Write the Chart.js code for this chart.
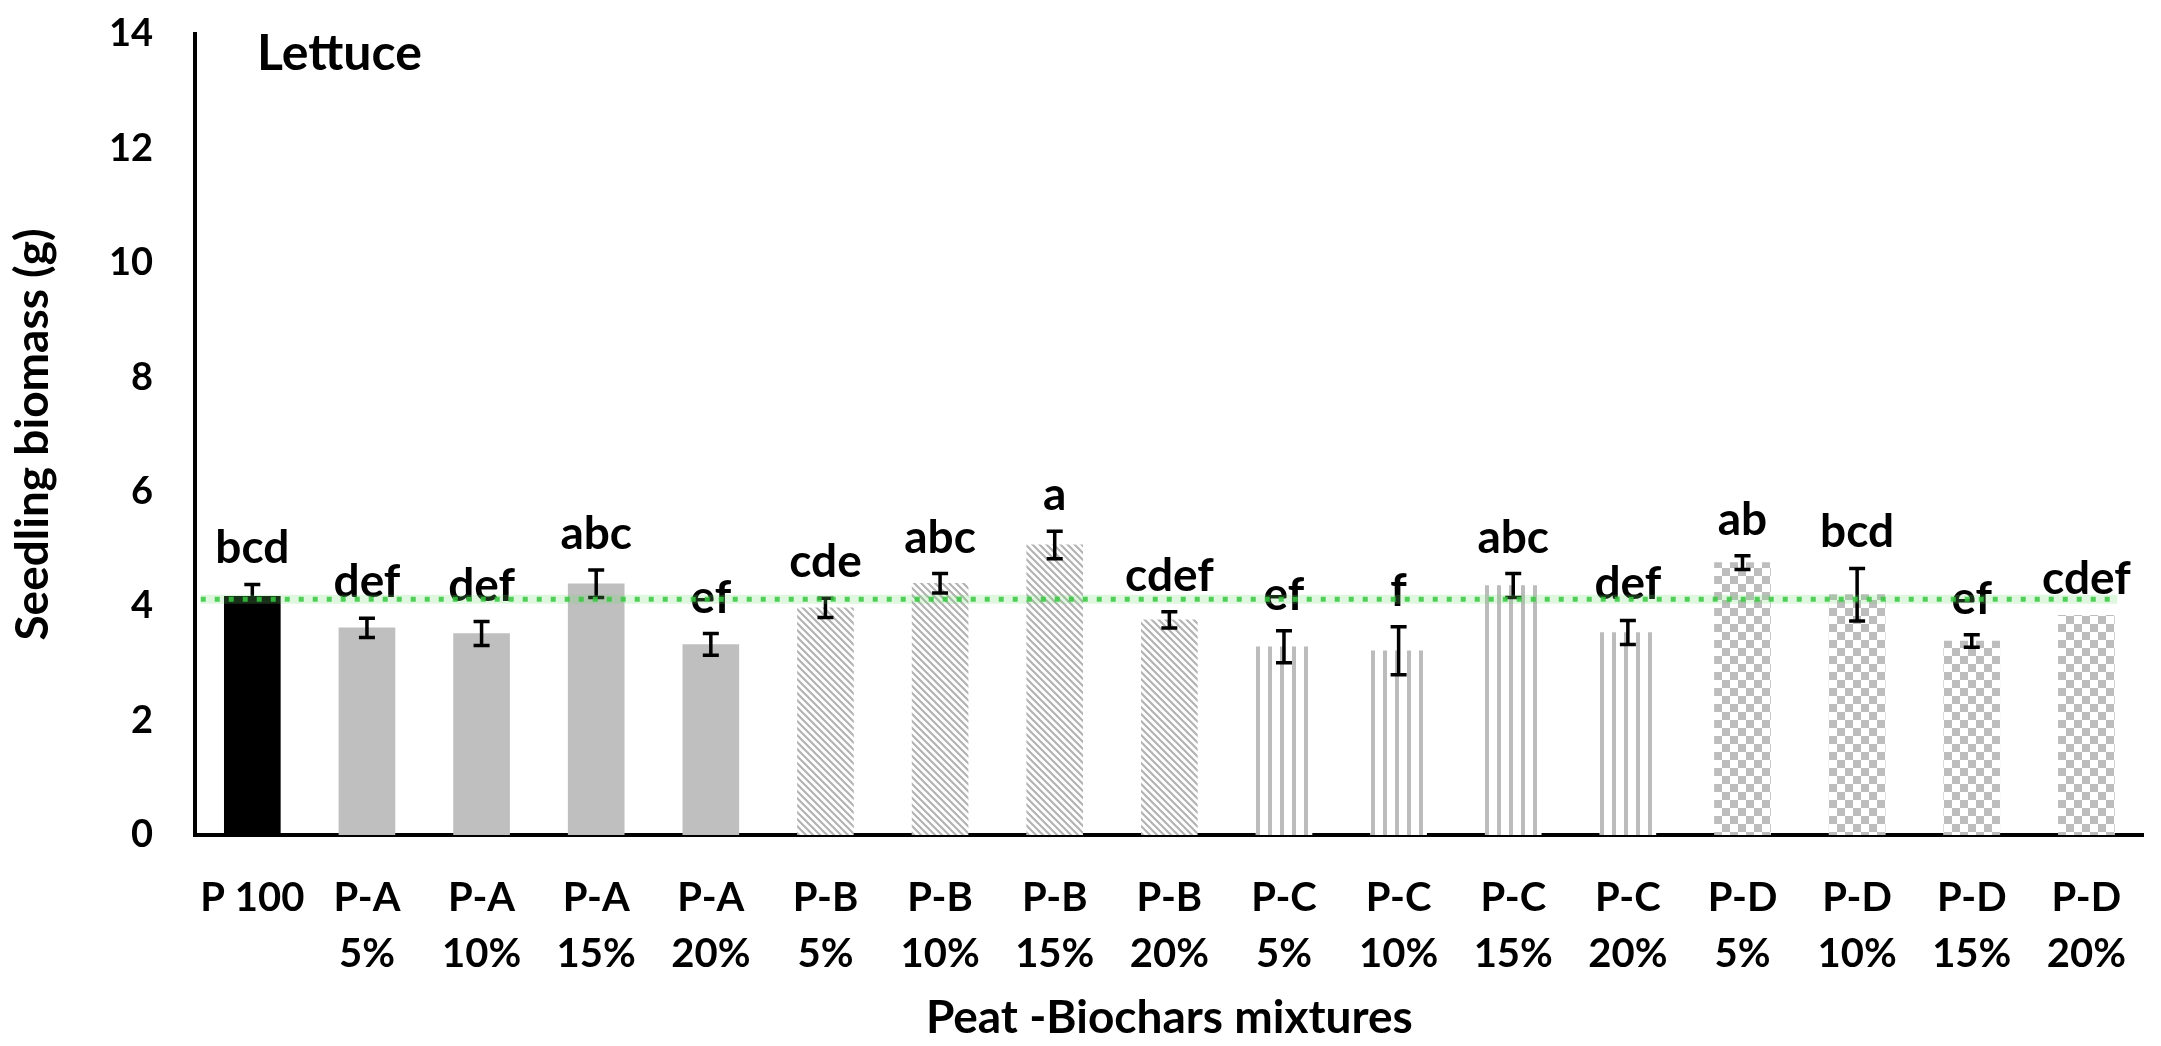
<!DOCTYPE html>
<html>
<head>
<meta charset="utf-8">
<script src="https://cdn.jsdelivr.net/npm/chart.js@4.4.1/dist/chart.umd.min.js"></script>
<style>
  html, body { margin: 0; padding: 0; background: #fff; }
  #wrap { width: 2161px; height: 1046px; }
</style>
</head>
<body>
<div id="wrap"><canvas id="chart" width="2161" height="1046"></canvas></div>
<script>
// Lettuce seedling biomass for peat / biochar mixtures
const categories = ['P 100',
  ['P-A', '5%'], ['P-A', '10%'], ['P-A', '15%'], ['P-A', '20%'],
  ['P-B', '5%'], ['P-B', '10%'], ['P-B', '15%'], ['P-B', '20%'],
  ['P-C', '5%'], ['P-C', '10%'], ['P-C', '15%'], ['P-C', '20%'],
  ['P-D', '5%'], ['P-D', '10%'], ['P-D', '15%'], ['P-D', '20%']];
const groups = ['P', 'A', 'A', 'A', 'A', 'B', 'B', 'B', 'B', 'C', 'C', 'C', 'C', 'D', 'D', 'D', 'D'];
const biomass = [4.17, 3.62, 3.52, 4.39, 3.33, 3.97, 4.40, 5.07, 3.76, 3.29, 3.22, 4.36, 3.54, 4.76, 4.20, 3.39, 3.84];
const errors = [0.21, 0.17, 0.21, 0.24, 0.19, 0.17, 0.17, 0.24, 0.14, 0.28, 0.42, 0.21, 0.21, 0.12, 0.46, 0.11, 0];
const letters = ['bcd', 'def', 'def', 'abc', 'ef', 'cde', 'abc', 'a', 'cdef', 'ef', 'f', 'abc', 'def', 'ab', 'bcd', 'ef', 'cdef'];
const yTicks = [0, 2, 4, 6, 8, 10, 12, 14];
const refLevel = 4.12;          // P 100 reference line
const refSpan = [-0.45, 16.27]; // in category units

const FONT = 'Lato, "Open Sans", sans-serif';
const BAR_W = 56;

const canvas = document.getElementById('chart');
const ctx = canvas.getContext('2d');

function makeTile(w, h, draw) {
  const c = document.createElement('canvas');
  c.width = w; c.height = h;
  const x = c.getContext('2d');
  x.fillStyle = '#fff';
  x.fillRect(0, 0, w, h);
  draw(x);
  return c;
}

const tiles = {
  B: makeTile(7, 7, x => {
    x.strokeStyle = '#b3b3b3';
    x.lineWidth = 2.2;
    x.beginPath();
    for (let k = -7; k <= 7; k += 7) {
      x.moveTo(k - 1, -1);
      x.lineTo(k + 8, 8);
    }
    x.stroke();
  }),
  C: makeTile(12, 10, x => {
    x.fillStyle = '#bcbcbc';
    x.fillRect(0, 0, 4, 10);
  }),
  D: makeTile(16, 16, x => {
    x.fillStyle = '#bdbdbd';
    x.fillRect(0, 0, 8, 8);
    x.fillRect(8, 8, 8, 8);
  })
};

// solid colours or patterns anchored to the left edge of each bar
function barFill(c) {
  const g = groups[c.dataIndex];
  if (g === 'P') return '#000000';
  if (g === 'A') return '#bfbfbf';
  const p = ctx.createPattern(tiles[g], 'repeat');
  const xs = c.chart.scales.x;
  if (xs && p.setTransform) {
    const left = xs.getPixelForValue(c.dataIndex) - BAR_W / 2;
    p.setTransform(new DOMMatrix().translate(Math.round(left), 0));
  }
  return p;
}

const barExtras = {
  id: 'barExtras',
  afterDatasetDraw(chart, args) {
    if (args.index !== 0) return;
    const c = chart.ctx;
    const y = chart.scales.y;
    const meta = chart.getDatasetMeta(0);
    c.save();
    meta.data.forEach((bar, i) => {
      const v = biomass[i], e = errors[i];
      const top = y.getPixelForValue(v + e);
      if (e > 0) {
        const bot = y.getPixelForValue(v - e);
        c.strokeStyle = '#000';
        c.lineWidth = 3.5;
        c.beginPath();
        c.moveTo(bar.x, top); c.lineTo(bar.x, bot);
        c.moveTo(bar.x - 8, top); c.lineTo(bar.x + 8, top);
        c.moveTo(bar.x - 8, bot); c.lineTo(bar.x + 8, bot);
        c.stroke();
      }
      c.fillStyle = '#000';
      c.font = 'bold 46px ' + FONT;
      c.textAlign = 'center';
      c.textBaseline = 'alphabetic';
      c.fillText(letters[i], bar.x, top - 21);
    });
    // panel label
    c.font = 'bold 50px ' + FONT;
    c.textAlign = 'left';
    c.fillText('Lettuce', chart.chartArea.left + 62, 70);
    c.restore();
  },
  afterDatasetsDraw(chart) {
    // dotted reference line at the P 100 level
    const c = chart.ctx;
    const x = chart.scales.x, y = chart.scales.y;
    const py = y.getPixelForValue(refLevel);
    const x0 = x.getPixelForValue(refSpan[0]), x1 = x.getPixelForValue(refSpan[1]);
    c.save();
    c.strokeStyle = 'rgba(110, 215, 110, 0.22)';
    c.lineWidth = 9;
    c.beginPath(); c.moveTo(x0, py); c.lineTo(x1, py); c.stroke();
    c.strokeStyle = 'rgba(55, 200, 65, 0.85)';
    c.lineWidth = 5;
    c.setLineDash([5, 9]);
    c.beginPath(); c.moveTo(x0, py); c.lineTo(x1, py); c.stroke();
    c.restore();
  }
};

new Chart(ctx, {
  type: 'bar',
  data: {
    labels: categories,
    datasets: [{
      data: biomass,
      backgroundColor: barFill,
      borderWidth: 0,
      barThickness: BAR_W
    }]
  },
  plugins: [barExtras],
  options: {
    responsive: false,
    animation: false,
    devicePixelRatio: 1,
    layout: { padding: { left: 0, right: 1, top: 34, bottom: 0 } },
    plugins: { legend: { display: false }, tooltip: { enabled: false } },
    scales: {
      x: {
        grid: { display: false, drawTicks: false },
        border: { display: true, color: '#000', width: 4 },
        ticks: {
          color: '#000',
          font: { family: FONT, size: 40, weight: 'bold', lineHeight: 1.4 },
          padding: 35,
          maxRotation: 0,
          autoSkip: false
        },
        title: {
          display: true,
          text: 'Peat -Biochars mixtures',
          color: '#000',
          font: { family: FONT, size: 46, weight: 'bold' },
          padding: { top: 0, bottom: 0 }
        },
        afterFit: s => { s.height = 211; }
      },
      y: {
        min: 0,
        max: 14,
        grid: { display: false, drawTicks: false },
        border: { display: true, color: '#000', width: 4 },
        afterBuildTicks: s => { s.ticks = yTicks.map(v => ({ value: v })); },
        ticks: {
          color: '#000',
          font: { family: FONT, size: 38, weight: 'bold' },
          padding: 42
        },
        title: {
          display: true,
          text: 'Seedling biomass (g)',
          color: '#000',
          font: { family: FONT, size: 46, weight: 'bold' },
          padding: { top: 6, bottom: 0 }
        },
        afterFit: s => {
          s.width = 195;
          s.paddingTop = 0;
          s.paddingBottom = 0;
        }
      }
    }
  }
});
</script>
</body>
</html>
